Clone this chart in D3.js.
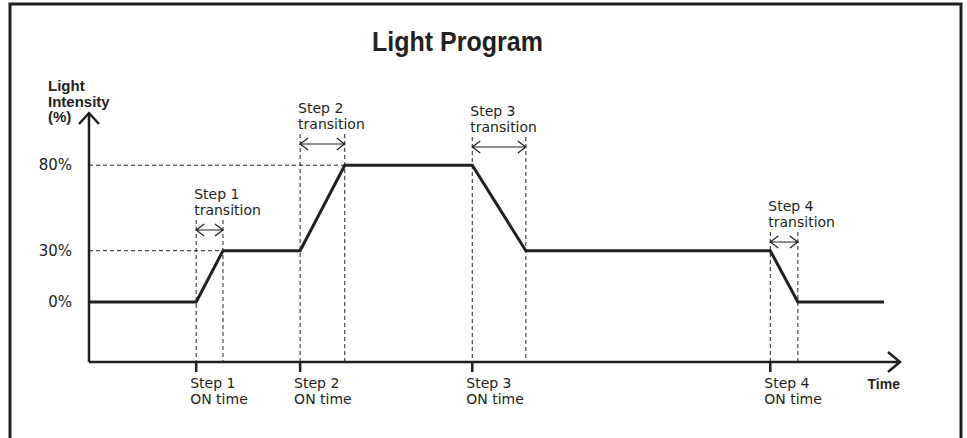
<!DOCTYPE html>
<html>
<head>
<meta charset="utf-8">
<script src="https://cdn.jsdelivr.net/npm/d3@7"></script>
<style>
  body { margin: 0; background: #fff; }
  svg { display: block; }
</style>
</head>
<body>
<div id="chart"></div>
<script>
// Program data (time in arbitrary units 0-100, intensity in %)
const programTime = [0, 13.2, 16.5, 26.0, 31.5, 47.2, 53.8, 83.9, 87.3, 97.9];
const programIntensity = [0, 0, 30, 30, 80, 80, 30, 30, 0, 0];

// Steps: ON time and end of transition
const stepNames = ["Step 1", "Step 2", "Step 3", "Step 4"];
const stepOn = [13.2, 26.0, 47.2, 83.9];
const stepDone = [16.5, 31.5, 53.8, 87.3];

// Y tick levels and labels
const levels = [0, 30, 80];
const levelLabels = ["0%", "30%", "80%"];

// Layout only: height of each transition arrow
const arrowY = [230, 144, 147, 242];

const W = 967, H = 438;
const ink = "#231f20";
const axisX = 89, axisY = 362;

const svg = d3.select("#chart").append("svg")
    .attr("width", W)
    .attr("height", H);

// Frame
svg.append("rect")
    .attr("x", 10).attr("y", 4)
    .attr("width", 951).attr("height", 470)
    .attr("fill", "none")
    .attr("stroke", ink)
    .attr("stroke-width", 3);

// Title (condensed bold face)
svg.append("text")
    .attr("x", 372).attr("y", 51)
    .attr("textLength", 171)
    .attr("lengthAdjust", "spacingAndGlyphs")
    .attr("font-family", "'Liberation Sans', Arial, sans-serif")
    .attr("font-weight", "bold")
    .attr("font-size", 27)
    .attr("fill", ink)
    .text("Light Program");

// Scales
const x = d3.scaleLinear().domain([0, 100]).range([axisX, 901]);
const y = d3.scaleLinear().domain([0, 100]).range([302, 131]);

const font = "'DejaVu Sans', sans-serif";

// Horizontal dashed guides to the first point reaching each level
levels.filter(l => l > 0).forEach(l => {
    const i = programIntensity.indexOf(l);
    svg.append("line")
        .attr("x1", axisX).attr("x2", x(programTime[i]))
        .attr("y1", y(l)).attr("y2", y(l))
        .attr("stroke", ink).attr("stroke-width", 1)
        .attr("stroke-dasharray", "4,3");
});

// Vertical dashed guides for each step
stepOn.forEach((t, i) => {
    [t, stepDone[i]].forEach(v => {
        svg.append("line")
            .attr("x1", x(v)).attr("x2", x(v))
            .attr("y1", arrowY[i] - 10).attr("y2", axisY)
            .attr("stroke", ink).attr("stroke-width", 1)
            .attr("stroke-dasharray", "4,3");
    });
});

// Double-headed transition arrows
const head = 8, half = 6;
stepOn.forEach((t, i) => {
    const x0 = x(t), x1 = x(stepDone[i]), ay = arrowY[i];
    svg.append("path")
        .attr("d", `M${x0},${ay}H${x1}` +
            `M${x0 + head},${ay - half}L${x0},${ay}L${x0 + head},${ay + half}` +
            `M${x1 - head},${ay - half}L${x1},${ay}L${x1 - head},${ay + half}`)
        .attr("fill", "none")
        .attr("stroke", ink).attr("stroke-width", 1.2);

    const lbl = svg.append("text")
        .attr("font-family", font).attr("font-size", 14)
        .attr("fill", ink);
    lbl.append("tspan").attr("x", x0 - 2).attr("y", ay - 31).text(stepNames[i]);
    lbl.append("tspan").attr("x", x0 - 2).attr("y", ay - 15).text("transition");
});

// Axes
svg.append("path")
    .attr("d", `M${axisX},${axisY}V113M${axisX - 10},124L${axisX},113L${axisX + 10},124`)
    .attr("fill", "none").attr("stroke", ink).attr("stroke-width", 2.5);
svg.append("path")
    .attr("d", `M${axisX},${axisY}H900M888,352L900,${axisY}L888,372`)
    .attr("fill", "none").attr("stroke", ink).attr("stroke-width", 2.5);

// Y tick labels
svg.selectAll(".ylab")
    .data(levels)
    .join("text")
    .attr("class", "ylab")
    .attr("x", 72)
    .attr("y", d => y(d) + 5)
    .attr("text-anchor", "end")
    .attr("font-family", font).attr("font-size", 15)
    .attr("fill", ink)
    .text((d, i) => levelLabels[i]);

// Y axis title
const yt = svg.append("text")
    .attr("font-family", "'Liberation Sans', Arial, sans-serif")
    .attr("font-weight", "bold").attr("font-size", 15)
    .attr("fill", ink);
["Light", "Intensity", "(%)"].forEach((s, i) => {
    yt.append("tspan").attr("x", 48).attr("y", 91 + i * 15.5).text(s);
});

// X ticks at step ON times
svg.selectAll(".xtick")
    .data(stepOn)
    .join("line")
    .attr("class", "xtick")
    .attr("x1", d => x(d)).attr("x2", d => x(d))
    .attr("y1", axisY).attr("y2", axisY + 10)
    .attr("stroke", ink).attr("stroke-width", 2.5);

// X tick labels
stepOn.forEach((t, i) => {
    const lbl = svg.append("text")
        .attr("font-family", font).attr("font-size", 14)
        .attr("fill", ink);
    lbl.append("tspan").attr("x", x(t) - 6).attr("y", 388).text(stepNames[i]);
    lbl.append("tspan").attr("x", x(t) - 6).attr("y", 404).text("ON time");
});

// X axis title
svg.append("text")
    .attr("x", 900).attr("y", 389)
    .attr("text-anchor", "end")
    .attr("font-family", "'Liberation Sans', Arial, sans-serif")
    .attr("font-weight", "bold").attr("font-size", 14)
    .attr("fill", ink)
    .text("Time");

// Program line
const line = d3.line()
    .x(d => x(d[0]))
    .y(d => y(d[1]));
svg.append("path")
    .datum(d3.zip(programTime, programIntensity))
    .attr("d", line)
    .attr("fill", "none")
    .attr("stroke", ink)
    .attr("stroke-width", 3)
    .attr("stroke-linejoin", "miter");
</script>
</body>
</html>
